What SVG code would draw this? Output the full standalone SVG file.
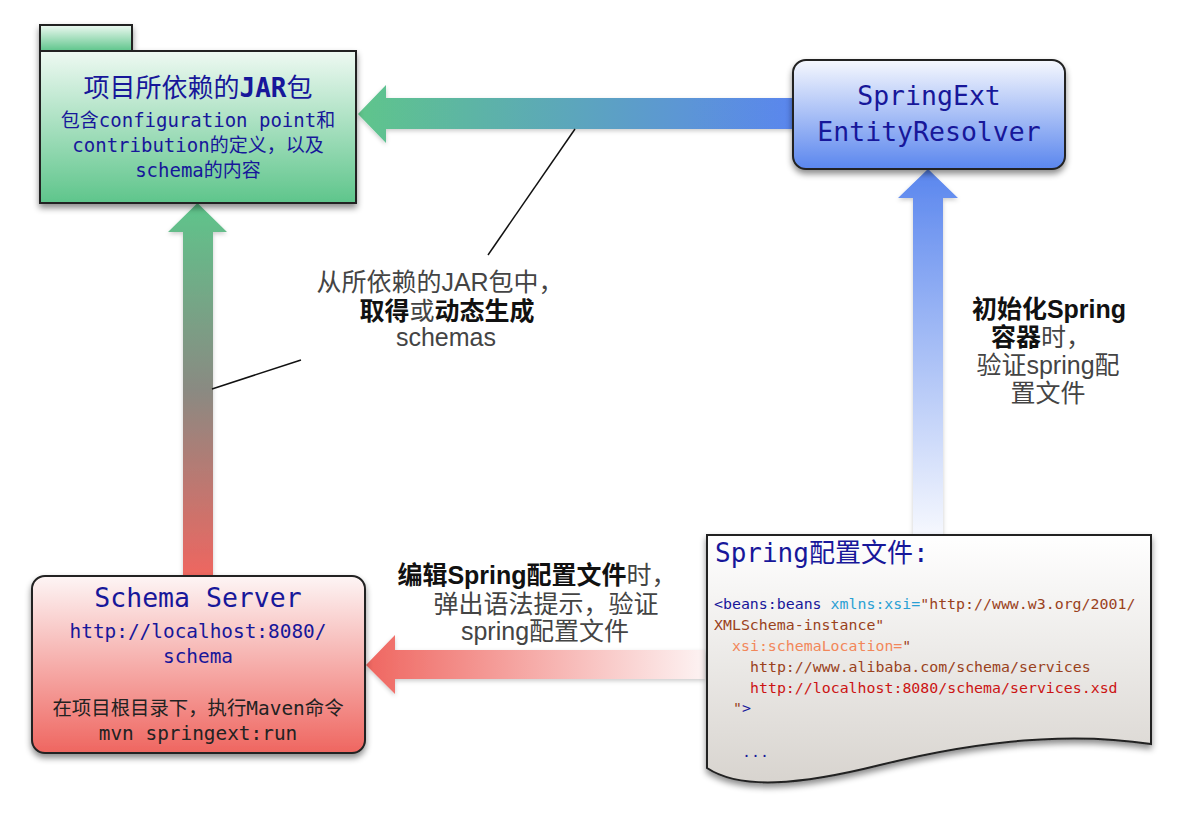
<svg xmlns="http://www.w3.org/2000/svg" width="1182" height="832" viewBox="0 0 1182 832">
<style>
.mono{font-family:"DejaVu Sans Mono","Liberation Mono","Noto Sans CJK SC",monospace}
.blue{fill:#17179a}
.lbl{font-family:"Liberation Sans","Noto Sans CJK SC",sans-serif;font-size:25px;text-anchor:middle;fill:#444}
.b{font-weight:bold;fill:#111}
.box{stroke:#222;stroke-width:2}
.lead{stroke:#111;stroke-width:1.5;fill:none}
</style>
<defs>
<filter id="sh" x="-10%" y="-10%" width="125%" height="135%"><feDropShadow dx="0" dy="4" stdDeviation="3" flood-color="#000" flood-opacity="0.45"/></filter>
<filter id="ash" x="-10%" y="-10%" width="125%" height="135%"><feDropShadow dx="0" dy="2" stdDeviation="2" flood-color="#000" flood-opacity="0.2"/></filter>
<linearGradient id="gGreen" x1="0" y1="0" x2="0" y2="1"><stop offset="0" stop-color="#eef9f2"/><stop offset="1" stop-color="#5ec58b"/></linearGradient>
<linearGradient id="gBlue" x1="0" y1="0" x2="0" y2="1"><stop offset="0" stop-color="#f6f8fe"/><stop offset="1" stop-color="#5a86ee"/></linearGradient>
<linearGradient id="gRed" x1="0" y1="0" x2="0" y2="1"><stop offset="0" stop-color="#fdf5f5"/><stop offset="1" stop-color="#ef6660"/></linearGradient>
<linearGradient id="gDoc" x1="0" y1="0" x2="0" y2="1"><stop offset="0" stop-color="#ffffff"/><stop offset="1" stop-color="#d8d4cf"/></linearGradient>
<linearGradient id="aTop" gradientUnits="userSpaceOnUse" x1="358" y1="0" x2="793" y2="0"><stop offset="0" stop-color="#5ec58b"/><stop offset="1" stop-color="#5a86ee"/></linearGradient>
<linearGradient id="aLeft" gradientUnits="userSpaceOnUse" x1="0" y1="203" x2="0" y2="577"><stop offset="0" stop-color="#5ec58b"/><stop offset="0.5" stop-color="#8a8a82"/><stop offset="1" stop-color="#ef6660"/></linearGradient>
<linearGradient id="aRight" gradientUnits="userSpaceOnUse" x1="0" y1="169" x2="0" y2="535"><stop offset="0" stop-color="#5a86ee"/><stop offset="1" stop-color="#f6f8fe"/></linearGradient>
<linearGradient id="aBot" gradientUnits="userSpaceOnUse" x1="366" y1="0" x2="705" y2="0"><stop offset="0" stop-color="#ef6660"/><stop offset="1" stop-color="#fdf3f3"/></linearGradient>
</defs>
<rect width="1182" height="832" fill="#fff"/>

<g id="connectors">
<polygon filter="url(#ash)" fill="url(#aTop)" points="793,98 386,98 386,85 358,114 386,143 386,129 793,129"/>
<polygon filter="url(#ash)" fill="url(#aLeft)" points="183,577 183,232 168,232 197.5,203 227,232 213,232 213,577"/>
<polygon filter="url(#ash)" fill="url(#aRight)" points="913,535 913,198 898,198 928,169 958,198 943,198 943,535"/>
<polygon filter="url(#ash)" fill="url(#aBot)" points="705,650 395,650 395,635 366,665 395,694 395,679 705,679"/>
<line class="lead" x1="575" y1="129" x2="488" y2="255"/>
<line class="lead" x1="301" y1="360" x2="212" y2="389"/>
<text class="lbl" x="440" y="291">从所依赖的JAR包中，</text>
<text class="lbl" x="447" y="320"><tspan class="b">取得</tspan>或<tspan class="b">动态生成</tspan></text>
<text class="lbl" x="446" y="346">schemas</text>
<text class="lbl" x="1049" y="318"><tspan class="b">初始化Spring</tspan></text>
<text class="lbl" x="1041" y="346"><tspan class="b">容器</tspan>时，</text>
<text class="lbl" x="1048" y="374">验证spring配</text>
<text class="lbl" x="1048" y="402">置文件</text>
<text class="lbl" x="537" y="584"><tspan class="b">编辑Spring配置文件</tspan>时，</text>
<text class="lbl" x="546" y="613">弹出语法提示，验证</text>
<text class="lbl" x="545" y="640">spring配置文件</text>
</g>

<g id="jar">
<g filter="url(#sh)">
<rect class="box" x="40" y="25" width="92" height="26" fill="url(#gGreen)"/>
<rect class="box" x="40" y="51" width="316" height="152" fill="url(#gGreen)"/>
</g>
<g class="mono blue" text-anchor="middle">
<text x="198" y="97" font-size="26">项目所依赖的<tspan font-weight="bold">JAR</tspan>包</text>
<text x="198" y="127" font-size="19">包含configuration point和</text>
<text x="198" y="152" font-size="19">contribution的定义，以及</text>
<text x="198" y="177" font-size="19">schema的内容</text>
</g>
</g>

<g id="resolver">
<rect class="box" filter="url(#sh)" x="793" y="60" width="272" height="109" rx="13" fill="url(#gBlue)"/>
<g class="mono blue" text-anchor="middle" font-size="26.5">
<text x="929" y="105">SpringExt</text>
<text x="929" y="141">EntityResolver</text>
</g>
</g>

<g id="server">
<rect class="box" filter="url(#sh)" x="32" y="576" width="333" height="177" rx="13" fill="url(#gRed)"/>
<g class="mono" text-anchor="middle">
<text class="blue" x="198" y="607" font-size="26.5">Schema Server</text>
<text class="blue" x="198" y="638" font-size="19.4">http://localhost:8080/</text>
<text class="blue" x="198" y="663" font-size="19.4">schema</text>
<text x="198" y="715" font-size="19.4" fill="#222">在项目根目录下，执行Maven命令</text>
<text x="198" y="740" font-size="19.4" fill="#222">mvn springext:run</text>
</g>
</g>

<g id="config">
<path class="box" filter="url(#sh)" fill="url(#gDoc)" d="M707,535 H1151 V744 C1060,730 960,745 880,765 C800,785 740,790 707,768 Z"/>
<g class="mono" font-size="14.9">
<text class="blue" x="715" y="562" font-size="26">Spring配置文件:</text>
<text x="714" y="609"><tspan fill="#17179a">&lt;beans:beans</tspan><tspan fill="#2aa0d4"> xmlns:xsi=</tspan><tspan fill="#9a421c">"http://www.w3.org/2001/</tspan></text>
<text x="714" y="630" fill="#9a421c">XMLSchema-instance"</text>
<text x="732" y="651"><tspan fill="#f2875a">xsi:schemaLocation=</tspan><tspan fill="#9a421c">"</tspan></text>
<text x="750" y="672" fill="#9a421c">http://www.alibaba.com/schema/services</text>
<text x="750" y="693" fill="#cc1414">http://localhost:8080/schema/services.xsd</text>
<text x="733" y="713"><tspan fill="#9a421c">"</tspan><tspan fill="#17179a">&gt;</tspan></text>
<text x="742" y="757" fill="#17179a">...</text>
</g>
</g>
</svg>
